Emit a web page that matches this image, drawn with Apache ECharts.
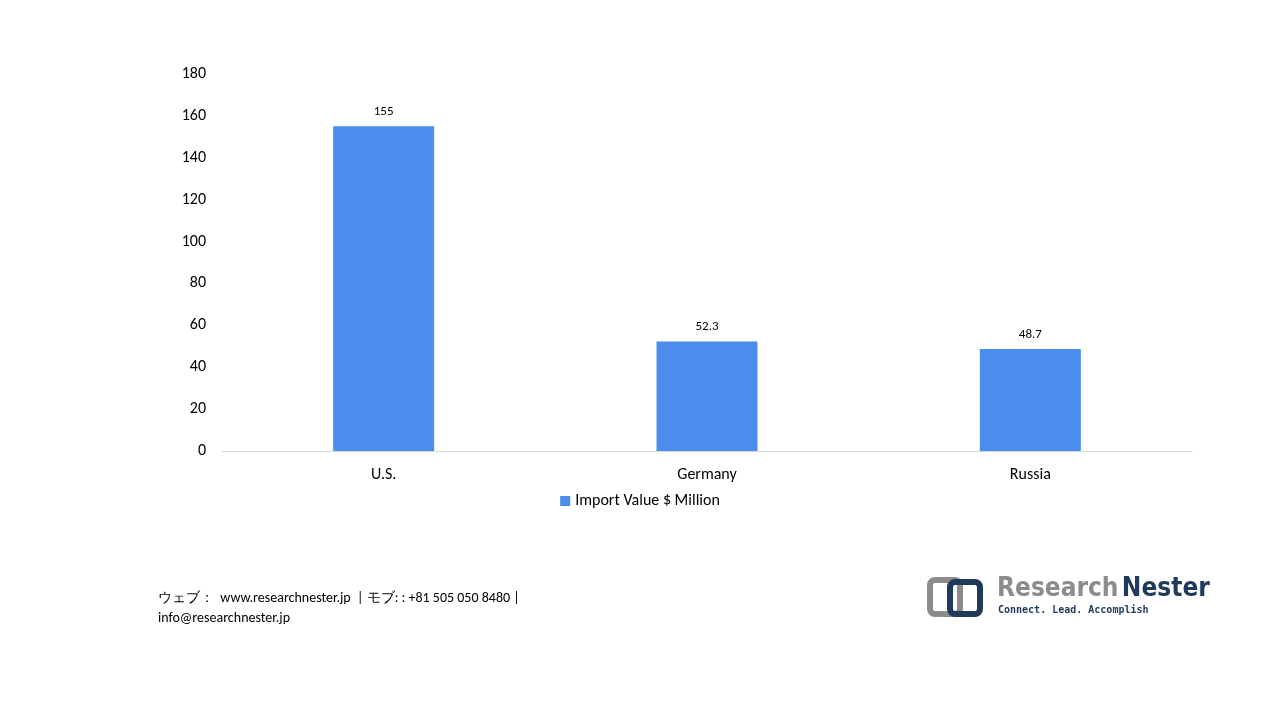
<!DOCTYPE html>
<html><head><meta charset="utf-8">
<script src="https://cdn.jsdelivr.net/npm/echarts@6/dist/echarts.min.js"></script>
<style>html,body{margin:0;padding:0;background:#fff}#c{width:1280px;height:720px}</style>
</head><body><div id="c"></div>
<script>
const categories = ['U.S.', 'Germany', 'Russia'];
const importValues = [155, 52.3, 48.7];
const seriesName = 'Import Value $ Million';
const yTicks = {min: 0, max: 180, interval: 20};

const chart = echarts.init(document.getElementById('c'));
const F = 'Calibri, Carlito, "Open Sans", "Noto Sans", sans-serif';
chart.setOption({
  animation: false,
  grid: {left: 222, right: 88, top: 74, bottom: 269},
  legend: {top: 488, left: 'center', itemWidth: 10, itemHeight: 10, icon: 'rect',
    textStyle: {fontFamily: F, fontSize: 16, color: '#000'}, data: [seriesName]},
  xAxis: {type: 'category', data: categories,
    axisLine: {lineStyle: {color: '#d9d9d9'}}, axisTick: {show: false},
    axisLabel: {fontFamily: F, fontSize: 16, color: '#000', margin: 16}},
  yAxis: {type: 'value', min: yTicks.min, max: yTicks.max, interval: yTicks.interval,
    splitLine: {show: false}, axisLine: {show: false}, axisTick: {show: false},
    axisLabel: {fontFamily: F, fontSize: 16, color: '#000', margin: 16}},
  series: [{name: seriesName, type: 'bar', data: importValues, barWidth: 101,
    itemStyle: {color: '#4a8ded'},
    label: {show: true, position: 'top', fontFamily: F, fontSize: 13, color: '#000', distance: 8}}],
  graphic: [
    {type: 'text', left: 158, top: 588, style: {text: 'ウェブ：  www.researchnester.jp  | モブ: : +81 505 050 8480 |\ninfo@researchnester.jp',
      font: '14px ' + F, fill: '#000', lineHeight: 20}},
    {type: 'rect', shape: {x: 930, y: 580, width: 30, height: 34, r: 5}, style: {fill: 'none', stroke: '#8c8c8c', lineWidth: 6}},
    {type: 'rect', shape: {x: 950, y: 582, width: 30, height: 32, r: 5}, style: {fill: 'none', stroke: '#1f3a5a', lineWidth: 6}},
    {type: 'text', left: 997, top: 576, style: {rich: {a: {fill: '#8c8c8c', font: 'bold 26px "Liberation Sans Narrow", "DejaVu Sans Condensed", sans-serif'}, b: {fill: '#1f3a5a', font: 'bold 26px "Liberation Sans Narrow", "DejaVu Sans Condensed", sans-serif'}}, text: '{a|Research} {b|Nester}'}},
    {type: 'text', left: 998, top: 605, style: {text: 'Connect. Lead. Accomplish', font: 'bold 10px "DejaVu Sans Mono", monospace', fill: '#1f3a5a'}}
  ]
});
</script></body></html>
